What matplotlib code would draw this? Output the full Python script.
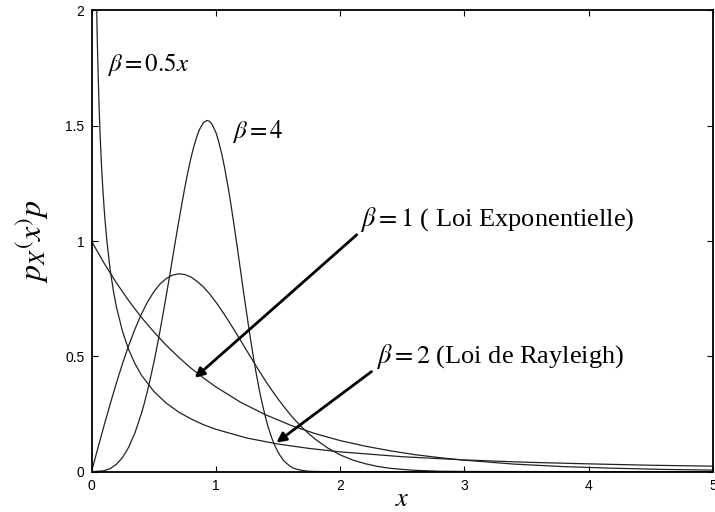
# Densites de Weibull pour differentes valeurs de beta
import matplotlib.pyplot as plt

# beta = 0.5
x_b05 = [0.03, 0.035, 0.04, 0.045, 0.05, 0.06, 0.07, 0.08, 0.09, 0.1, 0.11, 0.125,
         0.15, 0.175, 0.2, 0.25, 0.3, 0.35, 0.4, 0.5, 0.6, 0.7, 0.8, 0.9, 1.0, 1.25,
         1.5, 1.75, 2.0, 2.5, 3.0, 3.5, 4.0, 4.5, 5.0]
p_b05 = [2.428, 2.217, 2.047, 1.907, 1.788, 1.598, 1.450, 1.332, 1.235, 1.153, 1.082,
         0.993, 0.876, 0.787, 0.715, 0.607, 0.528, 0.468, 0.420, 0.349, 0.298, 0.259,
         0.229, 0.204, 0.184, 0.146, 0.120, 0.101, 0.086, 0.065, 0.051, 0.041, 0.034,
         0.028, 0.024]

# beta = 1 (exponentielle)
x_b1 = [0, 0.1, 0.2, 0.3, 0.4, 0.5, 0.6, 0.7, 0.8, 0.9, 1.0, 1.2, 1.4, 1.6, 1.8,
        2.0, 2.2, 2.4, 2.6, 2.8, 3.0, 3.4, 3.8, 4.2, 4.6, 5.0]
p_b1 = [1.0, 0.905, 0.819, 0.741, 0.670, 0.607, 0.549, 0.497, 0.449, 0.407, 0.368,
        0.301, 0.247, 0.202, 0.165, 0.135, 0.111, 0.091, 0.074, 0.061, 0.050, 0.033,
        0.022, 0.015, 0.010, 0.007]

# beta = 2 (Rayleigh)
x_b2 = [0, 0.05, 0.1, 0.15, 0.2, 0.25, 0.3, 0.35, 0.4, 0.45, 0.5, 0.55, 0.6, 0.65,
        0.7, 0.75, 0.8, 0.85, 0.9, 0.95, 1.0, 1.05, 1.1, 1.15, 1.2, 1.25, 1.3, 1.35,
        1.4, 1.45, 1.5, 1.55, 1.6, 1.65, 1.7, 1.75, 1.8, 1.9, 2.0, 2.1, 2.2, 2.3,
        2.4, 2.5, 2.6, 2.8, 3.0, 4.0, 5.0]
p_b2 = [0, 0.100, 0.198, 0.293, 0.384, 0.470, 0.548, 0.619, 0.682, 0.735, 0.779,
        0.813, 0.837, 0.852, 0.858, 0.855, 0.844, 0.825, 0.801, 0.771, 0.736, 0.697,
        0.656, 0.613, 0.569, 0.524, 0.480, 0.436, 0.394, 0.354, 0.316, 0.281, 0.247,
        0.217, 0.189, 0.164, 0.141, 0.103, 0.073, 0.051, 0.035, 0.023, 0.015, 0.010,
        0.006, 0.002, 0.001, 0, 0]

# beta = 4
x_b4 = [0, 0.1, 0.15, 0.2, 0.25, 0.3, 0.35, 0.4, 0.42, 0.45, 0.47, 0.5, 0.52, 0.55,
        0.57, 0.6, 0.62, 0.65, 0.67, 0.7, 0.72, 0.75, 0.77, 0.8, 0.82, 0.85, 0.87,
        0.9, 0.93, 0.95, 0.97, 1.0, 1.02, 1.05, 1.07, 1.1, 1.12, 1.15, 1.17, 1.2,
        1.22, 1.25, 1.27, 1.3, 1.32, 1.35, 1.37, 1.4, 1.42, 1.45, 1.47, 1.5, 1.52,
        1.55, 1.57, 1.6, 1.62, 1.65, 1.7, 1.75, 1.8, 2.0, 5.0]
p_b4 = [0, 0.004, 0.0135, 0.032, 0.062, 0.107, 0.169, 0.250, 0.287, 0.350, 0.396,
        0.470, 0.523, 0.607, 0.667, 0.759, 0.822, 0.919, 0.984, 1.079, 1.141, 1.230,
        1.285, 1.360, 1.403, 1.457, 1.485, 1.513, 1.523, 1.519, 1.506, 1.472, 1.438,
        1.373, 1.321, 1.231, 1.165, 1.058, 0.984, 0.869, 0.792, 0.681, 0.608, 0.505,
        0.442, 0.355, 0.304, 0.236, 0.196, 0.147, 0.119, 0.086, 0.068, 0.046, 0.036,
        0.023, 0.017, 0.011, 0.005, 0.002, 0.001, 0, 0]

plt.rcParams['mathtext.fontset'] = 'stix'

fig = plt.figure(figsize=(7.15, 5.12), dpi=100)
ax = fig.add_axes([0.128, 0.0787, 0.869, 0.901])

for xs, ps in [(x_b05, p_b05), (x_b1, p_b1), (x_b2, p_b2), (x_b4, p_b4)]:
    ax.plot(xs, ps, color='#222222', lw=0.9)

ax.set_xlim(0, 5)
ax.set_ylim(0, 2)
ax.set_xticks([0, 1, 2, 3, 4, 5])
ax.set_yticks([0, 0.5, 1, 1.5, 2])
ax.set_yticklabels(['0', '0.5', '1', '1.5', '2'])
ax.tick_params(direction='in', length=4, width=0.8, top=True, right=True,
               labelsize=10, pad=5)
for lab in ax.get_xticklabels() + ax.get_yticklabels():
    lab.set_family('Liberation Sans')
for sp in ax.spines.values():
    sp.set_linewidth(1.3)

ax.set_xlabel(r'$x$', fontsize=19, labelpad=-5)
ax.set_ylabel(r'$p_X{}^{(}x{}^{)}p$', fontsize=23, labelpad=10)

# textes
ax.text(0.123, 1.765, r'$\beta{=}0.5x$', fontsize=18, va='center')
ax.text(1.13, 1.476, r'$\beta{=}4$', fontsize=18, va='center')
ax.text(2.158, 1.092, r'$\beta{=}1$ ( Loi Exponentielle)', fontsize=19,
        va='center', family='Liberation Serif')
ax.text(2.293, 0.499, r'$\beta{=}2$ (Loi de Rayleigh)', fontsize=19,
        va='center', family='Liberation Serif')

# fleches
arr = dict(arrowstyle='-|>', lw=2, color='black', mutation_scale=14,
           shrinkA=0, shrinkB=0)
ax.annotate('', xy=(0.831, 0.407), xytext=(2.134, 1.027), arrowprops=arr)
ax.annotate('', xy=(1.488, 0.126), xytext=(2.253, 0.434), arrowprops=arr)

plt.savefig('out.png', dpi=100)
